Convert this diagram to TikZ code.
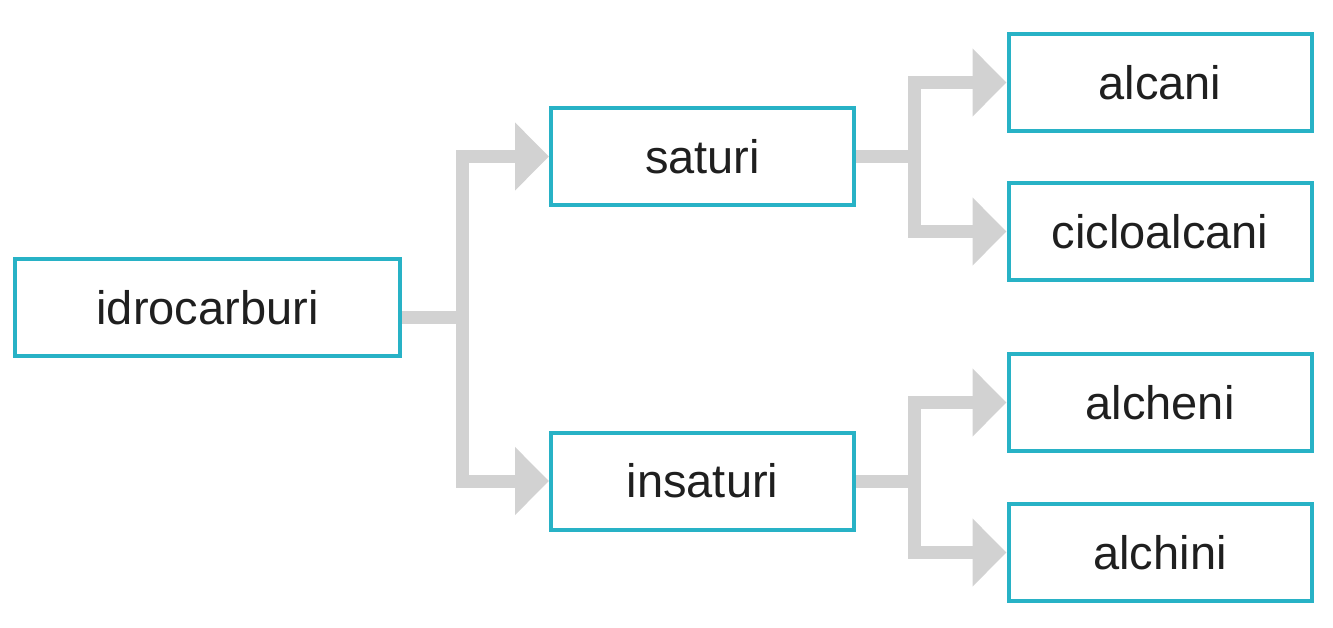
\documentclass[tikz,border=0pt]{standalone}
\usepackage{fontspec}
\setmainfont{Liberation Sans}
\usetikzlibrary{arrows.meta,backgrounds}
\definecolor{boxc}{RGB}{40,178,198}
\definecolor{connc}{RGB}{210,210,210}
\begin{document}
\begin{tikzpicture}[x=0.5pt,y=-0.5pt,
  box/.style={draw=boxc, line width=2pt, fill=white, minimum width=151.5pt, minimum height=48.5pt, inner sep=0pt, font=\fontsize{23.5}{28}\selectfont, text=black!88},
  conn/.style={draw=connc, line width=6.5pt},
  arr/.style={conn, -{Triangle[length=17pt,width=33pt]}}]
\useasboundingbox (0,0) rectangle (1333,627);
\node[box, minimum width=192.5pt] (idro) at (207.5,307.5) {idrocarburi};
\node[box] (sat) at (702.5,156.5) {saturi};
\node[box] (insat) at (702.5,481) {insaturi};
\node[box] (alcani) at (1160,82.5) {alcani};
\node[box] (ciclo) at (1160,231.5) {cicloalcani};
\node[box] (alcheni) at (1160,402.5) {alcheni};
\node[box] (alchini) at (1160,552.5) {alchini};
\begin{scope}[on background layer]
\draw[arr] ([yshift=-5pt]idro.east) -- ++(60,0) |- (sat.west);
\draw[arr] ([yshift=-5pt]idro.east) -- ++(60,0) |- (insat.west);
\draw[arr] (sat.east) -- ++(58,0) |- (alcani.west);
\draw[arr] (sat.east) -- ++(58,0) |- (ciclo.west);
\draw[arr] (insat.east) -- ++(58,0) |- (alcheni.west);
\draw[arr] (insat.east) -- ++(58,0) |- (alchini.west);
\end{scope}
\end{tikzpicture}
\end{document}
